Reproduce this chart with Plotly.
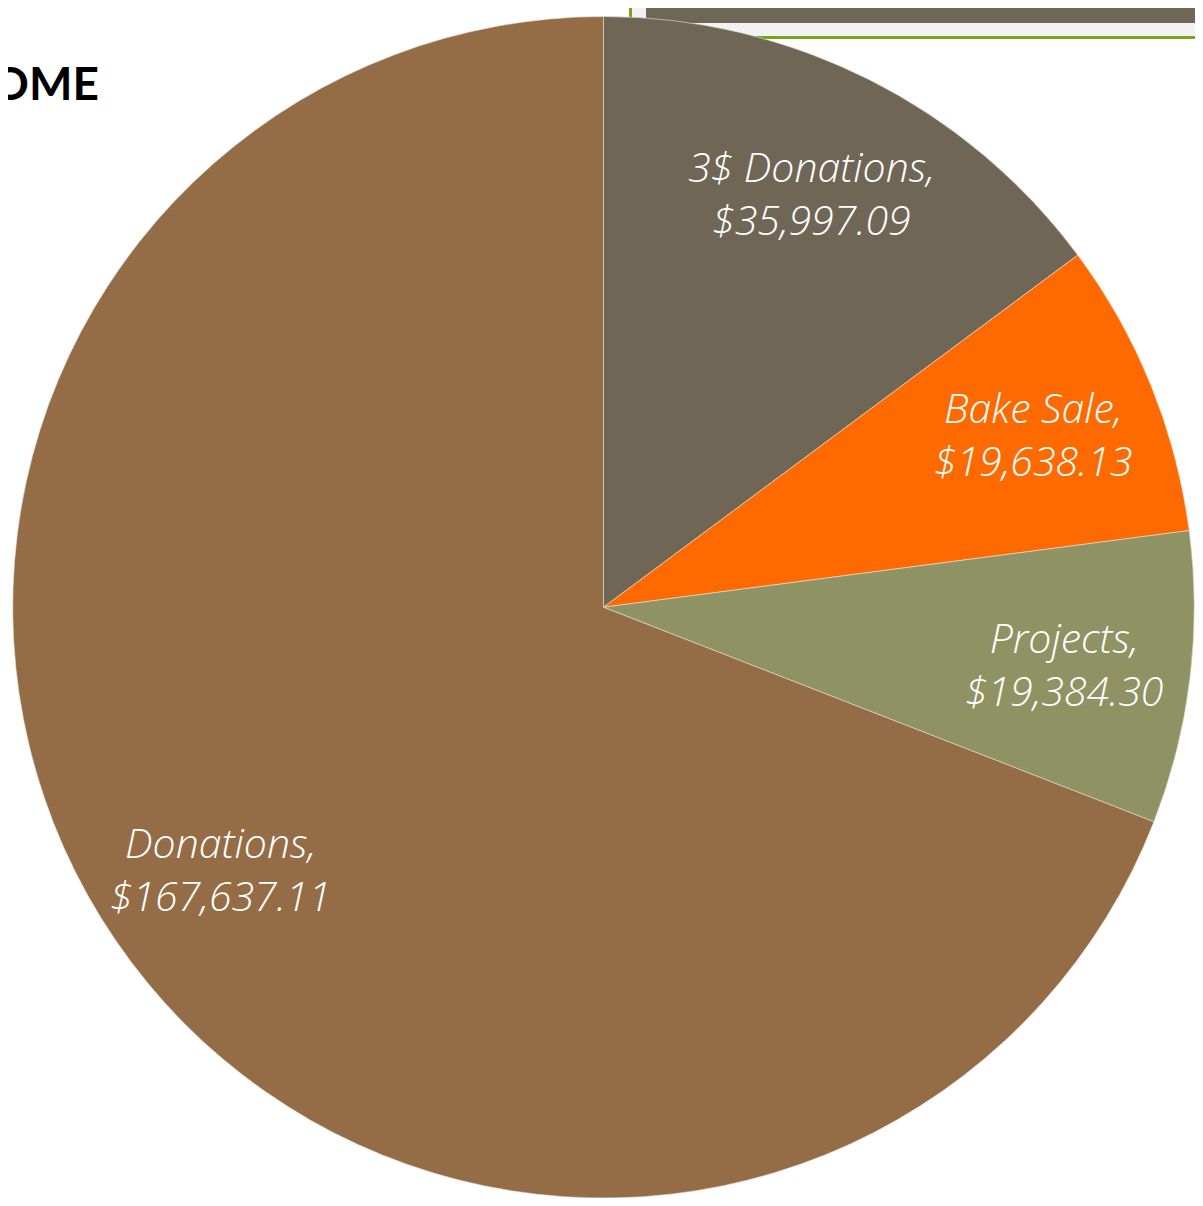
import numpy as np
import plotly.graph_objs as go

# income breakdown
labels = ["3$ Donations", "Bake Sale", "Projects", "Donations"]
values = [35997.09, 19638.13, 19384.30, 167637.11]
colors = ["#706656", "#FF6A00", "#8F9263", "#946C45"]

# page body has an 8px margin on every side -> keep figure inside the window
W, H = 1187, 1190
FONT_LBL = dict(family="Open Sans, sans-serif", size=41, color="white",
                style="italic", weight=300)

dom_x = [4 / W, 1.0]
dom_y = [0.0, 1 - 8.5 / H]

fig = go.Figure(
    go.Pie(
        labels=labels,
        values=values,
        sort=False,
        direction="clockwise",
        rotation=0,
        marker=dict(colors=colors, line=dict(color="#E8E2DA", width=0.6)),
        textinfo="none",
        hoverinfo="skip",
        showlegend=False,
        domain=dict(x=dom_x, y=dom_y),
    )
)

# data labels placed at the middle angle of each slice
cx = (dom_x[0] + dom_x[1]) / 2 * W
cy = H - (dom_y[0] + dom_y[1]) / 2 * H
R = min((dom_x[1] - dom_x[0]) * W, (dom_y[1] - dom_y[0]) * H) / 2
cum = np.cumsum([0] + values)
tot = cum[-1]
for i, (lab, val) in enumerate(zip(labels, values)):
    mid = np.deg2rad((cum[i] + val / 2) / tot * 360)
    px_ = cx + 0.785 * R * np.sin(mid)
    py_ = cy - 0.785 * R * np.cos(mid)
    fig.add_annotation(
        text=f"{lab},<br>${val:,.2f}",
        xref="paper", yref="paper",
        x=px_ / W, y=1 - py_ / H,
        xanchor="center", yanchor="middle",
        showarrow=False, font=FONT_LBL,
    )

# header decoration (top right)
fig.add_shape(
    type="rect", xref="paper", yref="paper", layer="below",
    x0=622.5 / W, x1=1.05, y0=1 - 29.5 / H, y1=1.05,
    fillcolor="#F2F2F2", line=dict(color="#77A51A", width=3),
)
fig.add_shape(
    type="rect", xref="paper", yref="paper", layer="below",
    x0=638 / W, x1=1.05, y0=1 - 15 / H, y1=1.05,
    fillcolor="#706656", line=dict(width=0),
)

fig.add_annotation(
    text="<b>INCOME</b>", xref="paper", yref="paper",
    x=93 / W, y=1 - 74 / H, xanchor="right", yanchor="middle",
    showarrow=False, font=dict(family="Lato, sans-serif", size=46, color="black"),
)

fig.update_layout(
    width=W,
    height=H,
    margin=dict(l=0, r=0, t=0, b=0),
    paper_bgcolor="white",
    plot_bgcolor="white",
)

fig.write_html("out.html")
